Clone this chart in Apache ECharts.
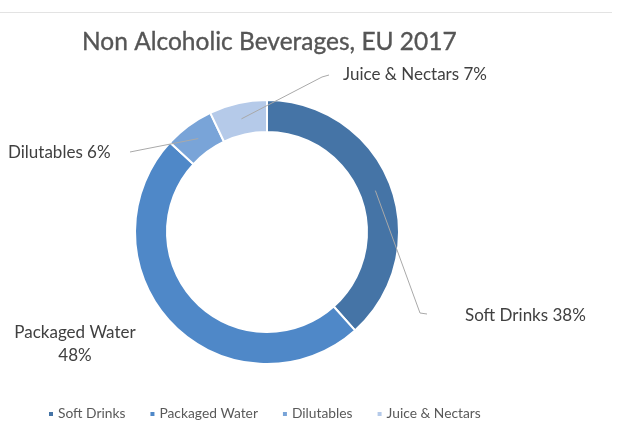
<!DOCTYPE html>
<html>
<head>
<meta charset="utf-8">
<script src="https://cdn.jsdelivr.net/npm/echarts@6/dist/echarts.min.js"></script>
<style>
  html, body { margin: 0; padding: 0; background: #fff; }
  #chart { width: 618px; height: 433px; }
</style>
</head>
<body>
<div id="chart"></div>
<script>
// Market share of non alcoholic beverages in the EU, 2017 (percent)
const categories = ['Soft Drinks', 'Packaged Water', 'Dilutables', 'Juice & Nectars'];
const shares = [38, 48, 6, 7];
const colors = ['#4574a6', '#4f88c8', '#79a4d8', '#b5cae9'];

// ring geometry
const CX = 267, CY = 232, R_IN = 100, R_OUT = 132;

// where each label sits and where its leader bends
const labelSpots = {
  'Soft Drinks':     { x: 465, y: 316, align: 'left',  bend: [[420, 313], [427, 314]] },
  'Packaged Water':  { x: 75,  y: 344, align: 'center', bend: null },
  'Dilutables':      { x: 8,   y: 153, align: 'left',  bend: [[140, 150], [130, 152]] },
  'Juice & Nectars': { x: 343, y: 75,  align: 'left',  bend: [[322, 77], [329, 75]] }
};

const total = shares.reduce((a, b) => a + b, 0);

// mid-ring point at the middle angle of slice i (clockwise from 12 o'clock)
function sliceAnchor(i) {
  let before = 0;
  for (let k = 0; k < i; k++) before += shares[k];
  const a = (before + shares[i] / 2) / total * Math.PI * 2;
  const r = (R_IN + R_OUT) / 2;
  return [CX + r * Math.sin(a), CY - r * Math.cos(a)];
}

// leader lines run over the ring, from the middle of each slice to its label
const leaders = categories
  .map((name, i) => ({ name, i }))
  .filter(d => labelSpots[d.name].bend)
  .map(d => ({
    type: 'polyline',
    z: 100,
    shape: { points: [sliceAnchor(d.i)].concat(labelSpots[d.name].bend) },
    style: { stroke: '#a9a9a9', lineWidth: 1, fill: null }
  }));

const chart = echarts.init(document.getElementById('chart'));

chart.setOption({
  animation: false,
  color: colors,
  title: {
    text: 'Non Alcoholic Beverages, EU 2017',
    left: 77,
    top: 25,
    textStyle: { fontFamily: 'Lato', fontSize: 24.5, fontWeight: 'normal', color: '#555555',
                 textBorderColor: '#555555', textBorderWidth: 0.35 }
  },
  legend: {
    left: 42,
    top: 402,
    icon: 'rect',
    itemWidth: 6,
    itemHeight: 6,
    itemGap: 23,
    textStyle: { fontFamily: 'Lato', fontSize: 13.8, color: '#595959', padding: [0, 0, 0, -1] },
    data: categories
  },
  graphic: [{
    type: 'line',
    shape: { x1: 0, y1: 12.5, x2: 612, y2: 12.5 },
    style: { stroke: '#e3e3e3', lineWidth: 1 }
  }].concat(leaders),
  series: [{
    type: 'pie',
    center: [CX, CY],
    radius: [R_IN, R_OUT],
    startAngle: 90,
    clockwise: true,
    itemStyle: { borderColor: '#ffffff', borderWidth: 2 },
    label: {
      show: true,
      width: 170,
      overflow: 'none',
      fontFamily: 'Lato',
      fontSize: 17,
      color: '#404040',
      lineHeight: 23,
      formatter: p => p.name === 'Packaged Water' ? p.name + '\n' + p.value + '%' : p.name + ' ' + p.value + '%'
    },
    labelLine: { show: false },
    labelLayout: function (params) {
      const spot = labelSpots[categories[params.dataIndex]];
      return { x: spot.x, y: spot.y, align: spot.align, verticalAlign: 'middle' };
    },
    data: categories.map((name, i) => ({ name: name, value: shares[i] }))
  }]
});
</script>
</body>
</html>
